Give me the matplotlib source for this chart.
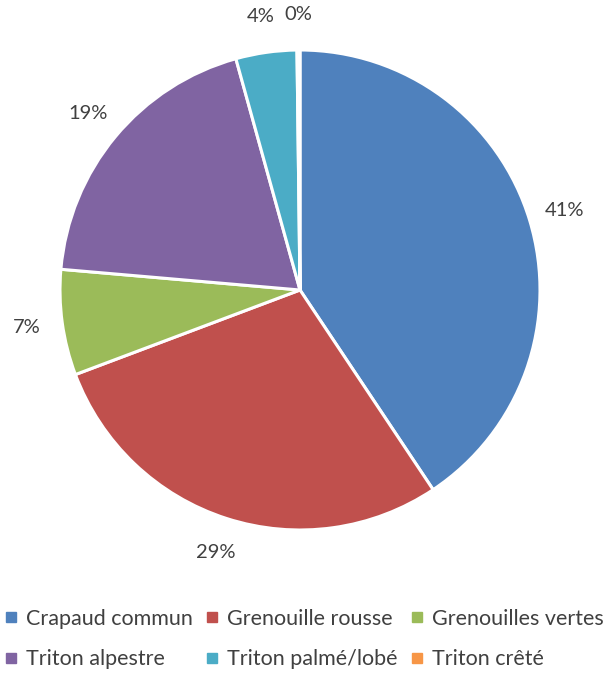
import matplotlib
matplotlib.use("Agg")
import matplotlib.pyplot as plt
from matplotlib.lines import Line2D

labels = ["Crapaud commun", "Grenouille rousse", "Grenouilles vertes",
          "Triton alpestre", "Triton palmé/lobé", "Triton crêté"]
values = [40.6, 28.6, 7.1, 19.3, 4.1, 0.2]
colors = ["#4F81BD", "#C0504D", "#9BBB59", "#8064A2", "#4BACC6", "#F79646"]

plt.rcParams["font.family"] = ["Lato", "DejaVu Sans"]
text_color = "#404040"

fig = plt.figure(figsize=(6.08, 6.74), dpi=100)
ax = fig.add_axes([300/608 - 240/608, (674 - 530)/674, 480/608, 480/674])

wedges, texts, autotexts = ax.pie(
    values, colors=colors, startangle=90, counterclock=False,
    autopct=lambda p: f"{p:.0f}%", pctdistance=1.15,
    wedgeprops=dict(edgecolor="white", linewidth=2.2),
    textprops=dict(color=text_color, fontsize=14.5))
ax.set_xlim(-1, 1)
ax.set_ylim(-1, 1)
ax.set_aspect("equal")

handles = [Line2D([], [], marker="s", linestyle="none", markersize=6.5,
                  markerfacecolor=c, markeredgecolor=c) for c in colors]
# legend fills column by column, reorder so it reads row by row
order = [0, 3, 1, 4, 2, 5]
fig.legend([handles[i] for i in order], [labels[i] for i in order],
           loc="lower center", bbox_to_anchor=(0.5, -0.022),
           ncol=3, frameon=False, fontsize=15.5, labelcolor=text_color,
           handlelength=0.6, handletextpad=0.4, columnspacing=0.6,
           labelspacing=0.95)

fig.savefig("out.png", dpi=100)
